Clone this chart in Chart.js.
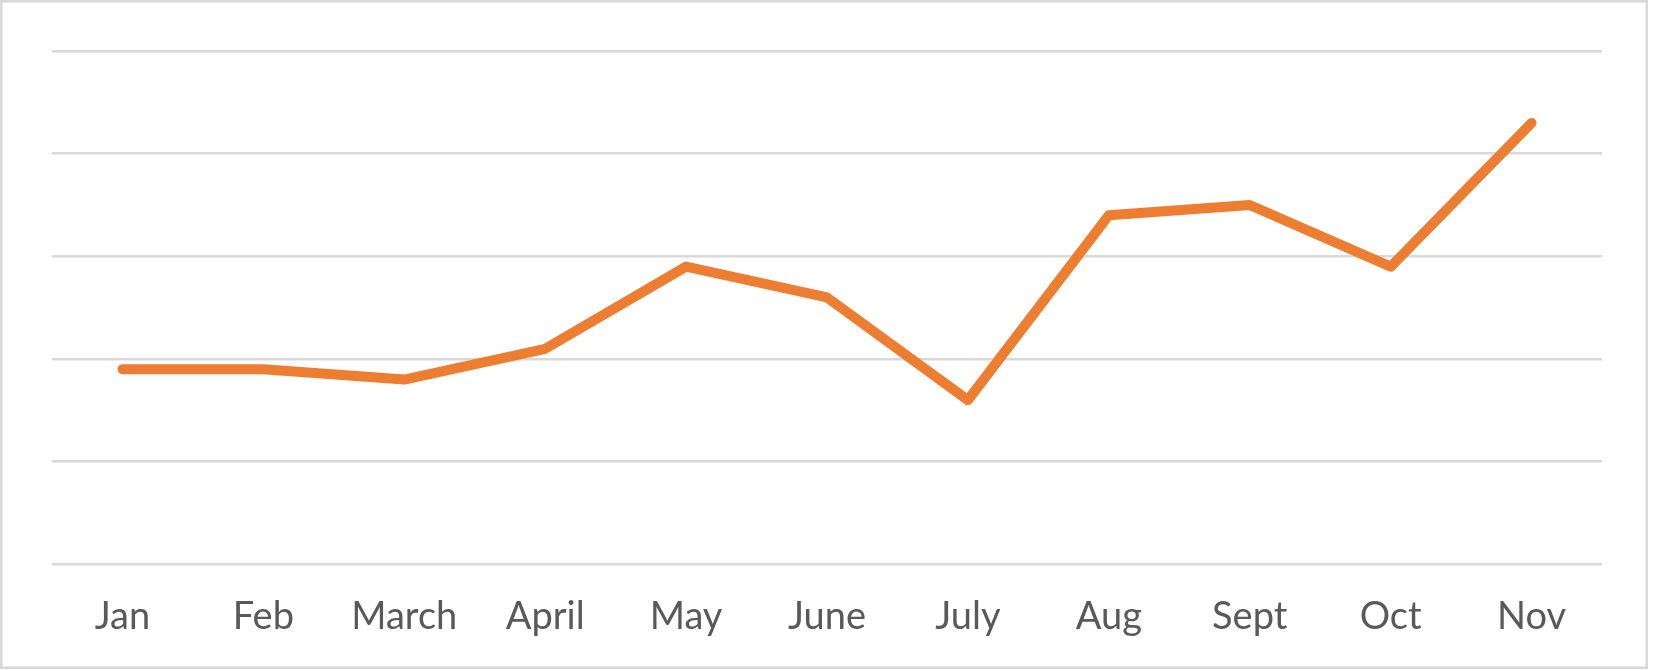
<!DOCTYPE html>
<html>
<head>
<meta charset="utf-8">
<script src="https://cdn.jsdelivr.net/npm/chart.js@4.4.0/dist/chart.umd.min.js"></script>
<style>
  html, body { margin: 0; padding: 0; background: #ffffff; }
  #wrap { position: absolute; left: 0; top: 0; width: 1653px; height: 671px; }
</style>
</head>
<body>
<div id="wrap"><canvas id="c" width="1653" height="671"></canvas></div>
<script>
const categories = ["Jan", "Feb", "March", "April", "May", "June", "July", "Aug", "Sept", "Oct", "Nov"];
const seriesValues = [1.9, 1.9, 1.8, 2.1, 2.9, 2.6, 1.6, 3.4, 3.5, 2.9, 4.3];
const yMin = 0;
const yMax = 5;
const yStep = 1;

const frame = {
  id: 'frame',
  beforeDraw(chart) {
    const ctx = chart.ctx;
    ctx.save();
    ctx.fillStyle = '#ffffff';
    ctx.fillRect(0, 0, chart.width, chart.height);
    ctx.strokeStyle = '#d9d9d9';
    ctx.lineWidth = 2.6;
    ctx.strokeRect(1.3, 1.3, 1645.5, 666.5);
    ctx.restore();
  }
};

new Chart(document.getElementById('c'), {
  type: 'line',
  data: {
    labels: categories,
    datasets: [{
      data: seriesValues,
      borderColor: '#ED7D31',
      borderWidth: 10,
      borderCapStyle: 'round',
      borderJoinStyle: 'round',
      pointRadius: 0,
      pointHoverRadius: 0,
      tension: 0,
      fill: false
    }]
  },
  options: {
    responsive: false,
    devicePixelRatio: 1,
    animation: false,
    layout: { padding: { left: 52, right: 51, top: 51, bottom: 1 } },
    plugins: { legend: { display: false }, tooltip: { enabled: false } },
    scales: {
      x: {
        offset: true,
        grid: { display: false, drawTicks: false },
        border: { display: false },
        ticks: {
          color: '#595959',
          font: { family: 'Lato', size: 38 },
          padding: 30,
          maxRotation: 0,
          autoSkip: false
        }
      },
      y: {
        min: yMin,
        max: yMax,
        grid: { color: '#d9d9d9', lineWidth: 2.5, drawTicks: false },
        border: { display: false },
        ticks: { display: false, stepSize: yStep }
      }
    }
  },
  plugins: [frame]
});
</script>
</body>
</html>
